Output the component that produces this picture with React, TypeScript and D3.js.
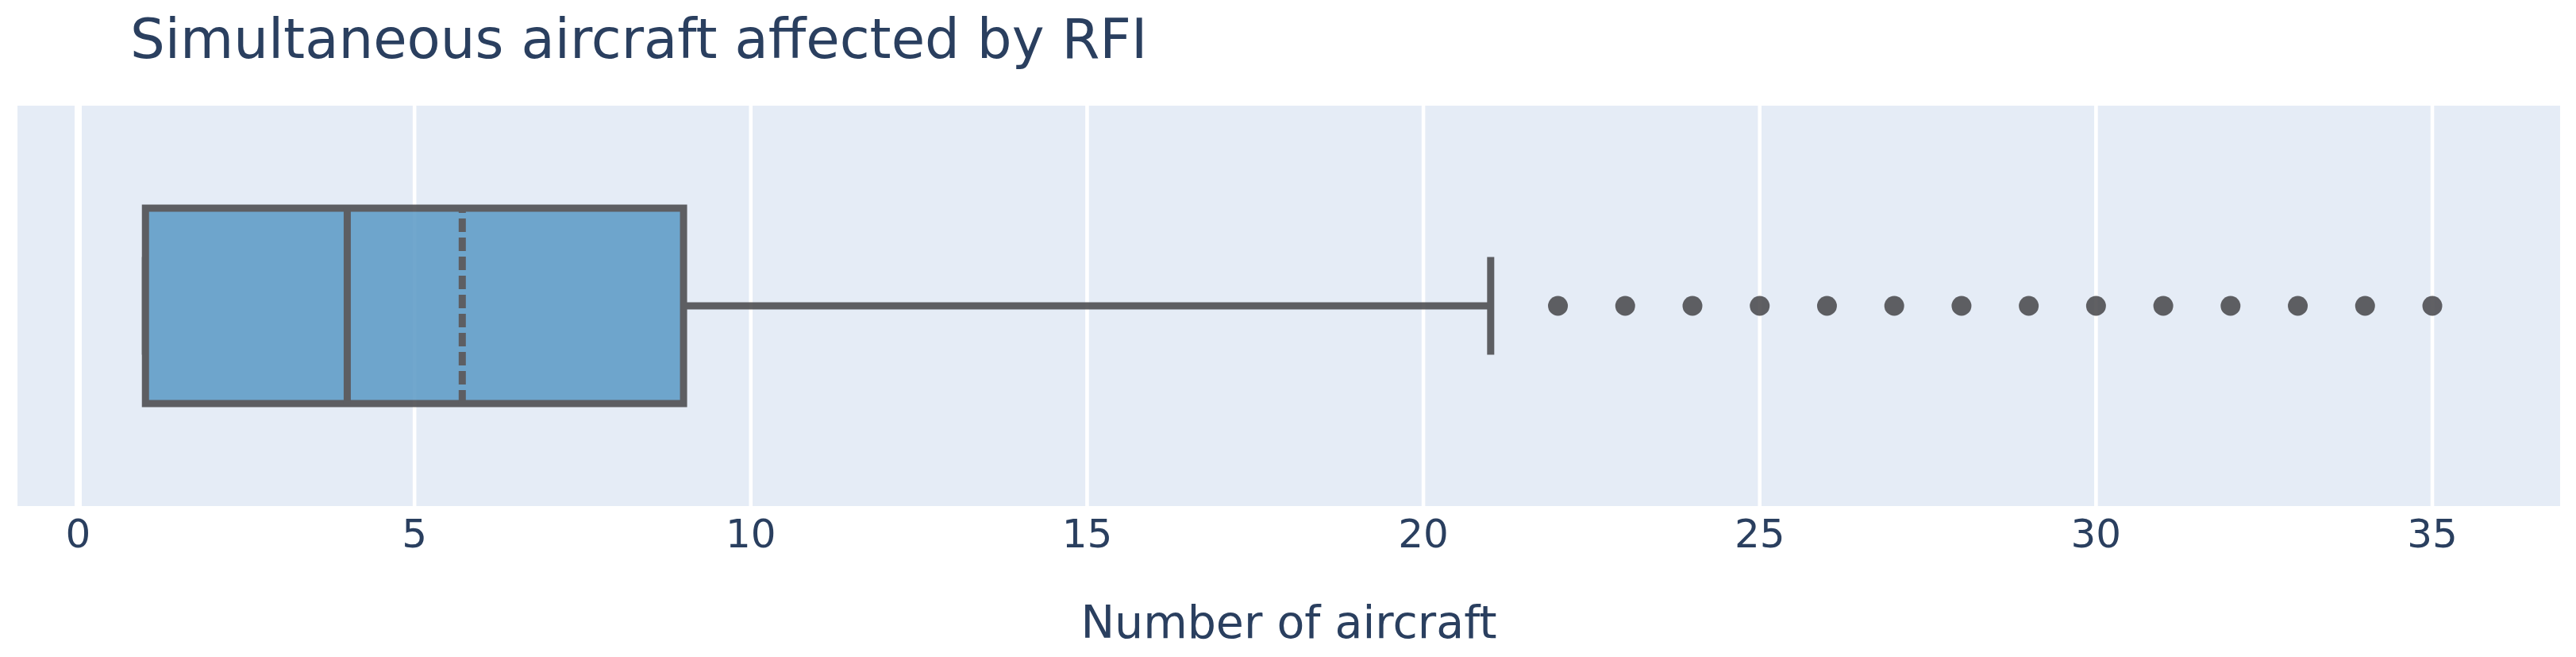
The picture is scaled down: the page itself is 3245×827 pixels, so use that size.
import React from "react";
import * as d3 from "d3";

// values
const title = "Simultaneous aircraft affected by RFI";
const xTitle = "Number of aircraft";
const xTicks = [0, 5, 10, 15, 20, 25, 30, 35];
const quartiles = [1, 4, 9]; // q1, median, q3
const means = [5.71];
const fences = [1, 21]; // lower, upper whisker ends
const outliers = [22, 23, 24, 25, 26, 27, 28, 29, 30, 31, 32, 33, 34, 35];
const xDomain = [-0.903, 36.9];

const W = 3245;
const H = 827;
const plot = { left: 22, right: 3225, top: 133, bottom: 637 };
const textColor = "#2a3f5f";
const lineColor = "#4f4f53";
const font = "'DejaVu Sans', Verdana, sans-serif";

export default function App() {
  const x = d3.scaleLinear().domain(xDomain).range([plot.left, plot.right]);
  const y = d3.scaleLinear().domain([-0.5, 0.5]).range([plot.bottom, plot.top]);

  const boxHalf = 0.244; // half box thickness in category units
  const capHalf = boxHalf / 2;
  const [q1, med, q3] = quartiles;
  const [lo, hi] = fences;

  return (
    <div>
      <style>{`body{margin:0}`}</style>
      <svg width={W} height={H} style={{ display: "block", fontFamily: font }}>
        <rect x={0} y={0} width={W} height={H} fill="#fff" />
        <rect
          x={plot.left}
          y={plot.top}
          width={plot.right - plot.left}
          height={plot.bottom - plot.top}
          fill="#e5ecf6"
        />
        {/* vertical grid */}
        {xTicks.map((t) => (
          <line
            key={"g" + t}
            x1={x(t)}
            x2={x(t)}
            y1={plot.top}
            y2={plot.bottom}
            stroke="#fff"
            strokeWidth={t === 0 ? 9 : 4.6}
          />
        ))}

        {/* box trace */}
        <g opacity={0.9}>
          <line x1={x(q3)} x2={x(hi)} y1={y(0)} y2={y(0)} stroke={lineColor} strokeWidth={9} />
          <line x1={x(lo)} x2={x(q1)} y1={y(0)} y2={y(0)} stroke={lineColor} strokeWidth={9} />
          <line x1={x(hi)} x2={x(hi)} y1={y(capHalf)} y2={y(-capHalf)} stroke={lineColor} strokeWidth={9} />
          <line x1={x(lo)} x2={x(lo)} y1={y(capHalf)} y2={y(-capHalf)} stroke={lineColor} strokeWidth={9} />
          <rect
            x={x(q1)}
            y={y(boxHalf)}
            width={x(q3) - x(q1)}
            height={y(-boxHalf) - y(boxHalf)}
            fill="#629ec8"
            stroke={lineColor}
            strokeWidth={9}
          />
          <line x1={x(med)} x2={x(med)} y1={y(boxHalf)} y2={y(-boxHalf)} stroke={lineColor} strokeWidth={9} />
          {means.map((m, i) => (
            <line
              key={"m" + i}
              x1={x(m)}
              x2={x(m)}
              y1={y(-boxHalf)}
              y2={y(boxHalf)}
              stroke={lineColor}
              strokeWidth={9}
              strokeDasharray="17,7"
            />
          ))}
          {outliers.map((v, i) => (
            <circle key={"o" + i} cx={x(v)} cy={y(0)} r={12.5} fill={lineColor} />
          ))}
        </g>

        {/* tick labels */}
        {xTicks.map((t) => (
          <text
            key={"t" + t}
            x={x(t)}
            y={689}
            textAnchor="middle"
            fontSize={50}
            fill={textColor}
          >
            {t}
          </text>
        ))}

        <text
          x={(plot.left + plot.right) / 2}
          y={803}
          textAnchor="middle"
          fontSize={57}
          fill={textColor}
        >
          {xTitle}
        </text>

        <text x={164} y={73} fontSize={69} fill={textColor}>
          {title}
        </text>
      </svg>
    </div>
  );
}
